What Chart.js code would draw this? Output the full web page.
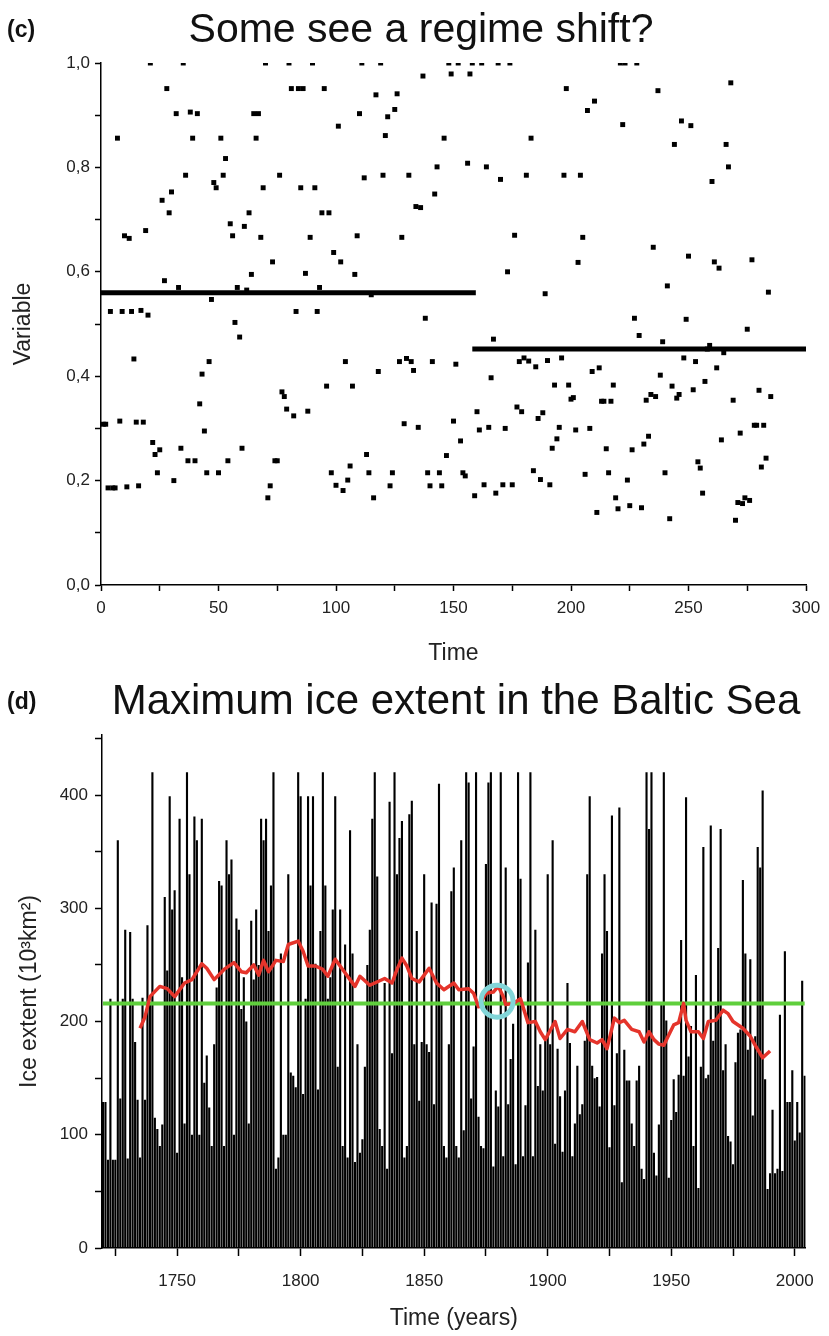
<!DOCTYPE html>
<html><head><meta charset="utf-8">
<script src="https://cdn.jsdelivr.net/npm/chart.js@4/dist/chart.umd.min.js"></script>
<style>
html,body{margin:0;padding:0;background:#fff;}
body{width:829px;height:1336px;position:relative;overflow:hidden;font-family:"Liberation Sans",Arial,sans-serif;}
canvas{position:absolute;left:0;}
#c1{top:0;}
#c2{top:680px;}
.ttl{position:absolute;transform:translate(-50%,-50%);font-size:41px;color:#111;white-space:nowrap;line-height:1;z-index:2;}
.lbl{position:absolute;transform:translateY(-50%);font-size:23px;font-weight:bold;color:#111;line-height:1;z-index:2;}
</style></head>
<body>
<div class="lbl" style="left:7px;top:29px">(c)</div>
<div class="ttl" style="left:421px;top:28px">Some see a regime shift?</div>
<div class="lbl" style="left:7px;top:701px">(d)</div>
<div class="ttl" style="left:456px;top:700px;font-size:42px">Maximum ice extent in the Baltic Sea</div>
<canvas id="c1" width="829" height="680"></canvas>
<canvas id="c2" width="829" height="656"></canvas>
<script>
// ---------- Panel (c): normalised variable, one value per time step ----------
const firstTime = 1;
const variableValues = [
0.308,0.308,0.186,0.524,0.186,0.186,0.856,0.314,0.524,0.669,
0.188,0.664,0.524,0.433,0.312,0.190,0.526,0.312,0.679,0.517,
1.0,0.273,0.250,0.215,0.259,0.737,0.583,0.951,0.713,0.753,
0.200,0.903,0.570,0.262,1.0,0.785,0.238,0.906,0.856,0.238,
0.903,0.347,0.404,0.295,0.215,0.428,0.547,0.771,0.761,0.215,
0.856,0.785,0.817,0.238,0.692,0.669,0.503,0.570,0.475,0.262,
0.687,0.565,0.713,0.595,0.903,0.856,0.903,0.666,0.761,1.0,
0.167,0.190,0.619,0.238,0.238,0.785,0.370,0.361,0.337,1.0,
0.951,0.324,0.524,0.951,0.761,0.951,0.597,0.333,0.666,1.0,
0.761,0.524,0.570,0.713,0.951,0.381,0.713,0.215,0.637,0.191,
0.879,0.619,0.181,0.428,0.201,0.228,0.381,0.595,0.669,0.903,
1.0,0.780,0.250,0.215,0.556,0.167,0.939,0.409,1.0,0.785,
0.861,0.897,0.190,0.215,0.911,0.941,0.428,0.666,0.309,0.434,
0.785,0.428,0.411,0.725,0.302,0.723,0.975,0.511,0.215,0.190,
0.428,0.749,0.801,0.215,0.190,0.856,0.248,1.0,0.979,0.314,
0.423,1.0,0.276,0.215,0.209,0.808,0.979,1.0,0.171,0.332,
0.297,1.0,0.192,0.801,0.302,0.397,0.471,0.176,1.0,0.777,
0.192,0.300,0.600,1.0,0.192,0.670,0.341,0.428,0.332,0.435,
0.785,0.429,0.856,0.219,0.418,0.319,0.202,0.330,0.558,0.430,
0.192,0.262,0.383,0.280,0.302,0.435,0.785,0.951,0.383,0.356,
0.359,0.297,0.618,0.785,0.666,0.212,0.909,0.300,0.409,0.927,
0.139,0.416,0.352,0.352,0.261,0.215,0.352,0.383,0.167,0.146,
1.0,0.882,1.0,0.201,0.152,0.259,0.511,1.0,0.478,0.148,
0.270,0.354,0.285,0.365,0.647,0.361,0.947,0.402,0.466,0.215,
0.573,0.127,0.381,0.844,0.358,0.365,0.889,0.435,0.509,0.630,
0.880,0.374,0.428,0.236,0.224,0.176,0.390,0.452,0.459,0.773,
0.619,0.416,0.607,0.278,0.445,0.844,0.801,0.962,0.354,0.124,
0.158,0.291,0.156,0.167,0.490,0.162,0.623,0.306,0.306,0.373,
0.226,0.306,0.243,0.561,0.361
];
const regimeBeforeTimes = [0, 159.5];
const regimeBeforeMean = 0.56;
const regimeAfterTimes = [158, 300];
const regimeAfterMean = 0.452;
const timeTicksLabelled = [0, 50, 100, 150, 200, 250, 300];

// ---------- Panel (d): maximum ice extent (10^3 km^2), yearly ----------
const firstYear = 1720;
const iceExtent = [
129,129,78,220,78,78,360,132,220,281,
79,279,220,182,131,80,221,131,285,217,
420,115,105,90,109,310,245,399,299,316,
84,379,239,110,420,330,100,381,360,100,
379,146,170,124,90,180,230,324,320,90,
360,330,343,100,291,281,211,239,200,110,
289,237,299,250,379,360,379,280,320,420,
70,80,260,100,100,330,155,152,142,420,
399,136,220,399,320,399,251,140,280,420,
320,220,239,299,399,160,299,90,268,80,
369,260,76,180,84,96,160,250,281,379,
420,328,105,90,234,70,394,172,420,330,
362,377,80,90,383,395,180,280,130,182,
330,180,173,305,127,304,410,215,90,80,
180,315,336,90,80,360,104,420,411,132,
178,420,116,90,88,339,411,420,72,139,
125,420,81,336,127,167,198,74,420,326,
81,126,252,420,81,281,143,180,139,183,
330,180,360,92,176,134,85,139,234,181,
81,110,161,118,127,183,330,399,161,150,
151,125,260,330,280,89,382,126,172,389,
58,175,148,148,110,90,148,161,70,61,
420,370,420,84,64,109,215,420,201,62,
113,149,120,153,272,152,398,169,196,90,
241,53,160,354,150,153,373,183,214,265,
370,157,180,99,94,74,164,190,193,325,
260,175,255,117,187,354,336,404,149,52,
66,122,66,70,206,68,262,129,129,157,
95,129,102,236,152
];
const runningMeanYears = [1735,1737,1739,1743,1746,1749,1753,1756,1760,1762,
1765,1769,1773,1776,1778,1781,1783,1785,1787,1790,
1793,1795,1799,1801,1803,1806,1809,1811,1814,1817,
1820,1822,1824,1828,1832,1834,1837,1839,1841,1843,
1845,1848,1852,1855,1858,1862,1864,1868,1870,1872,
1875,1878,1880,1882,1883,1886,1889,1892,1895,1897,
1899,1903,1905,1908,1911,1914,1917,1920,1922,1924,
1927,1929,1931,1934,1937,1939,1941,1943,1945,1947,
1949,1951,1953,1955,1956,1958,1961,1963,1965,1968,
1971,1973,1975,1979,1982,1984,1987,1990];
const runningMeanValues = [194,204,222,231,229,222,234,237,251,247,
237,246,252,244,243,250,241,254,244,254,
253,268,271,262,249,249,246,240,255,246,
237,231,240,232,236,238,234,246,256,249,
238,235,247,234,228,234,228,229,225,213,
225,226,231,222,215,216,220,199,200,191,
184,200,185,193,191,200,184,181,184,176,
203,199,201,193,191,182,191,184,180,179,
188,197,199,216,201,191,191,185,200,201,
210,207,200,194,187,179,168,174];
const overallMeanYears = [1720, 2004];
const overallMeanIce = 216;
const shiftMarkerYear = [1879.5];
const shiftMarkerIce = [218];
const yearTicksLabelled = [1750, 1800, 1850, 1900, 1950, 2000];
const iceTicksLabelled = [0, 100, 200, 300, 400];

// ---------- common ----------
const FONT = '"Liberation Sans", Arial, sans-serif';
Chart.defaults.font.family = FONT;
Chart.defaults.color = '#222';

function axisCommon(extra) {
  return Object.assign({
    type: 'linear',
    offset: false,
    border: { display: true, color: '#000', width: 1.5 },
    grid: { display: true, drawOnChartArea: false, drawTicks: true, tickLength: 6,
            tickWidth: 1.5, tickColor: '#000', offset: false },
  }, extra);
}

// ---------- chart (c) ----------
const ptsC = variableValues.map((v, i) => ({ x: firstTime + i, y: v }));
new Chart(document.getElementById('c1'), {
  type: 'scatter',
  data: { datasets: [
    { label: 'Variable', data: ptsC, pointStyle: 'rect', pointRadius: 3.5,
      backgroundColor: '#000', borderWidth: 0, clip: 0, order: 2 },
    { type: 'line', label: 'Mean 1', data: regimeBeforeTimes.map(t => ({ x: t, y: regimeBeforeMean })),
      borderColor: '#000', borderWidth: 5, pointRadius: 0, clip: 0, order: 1 },
    { type: 'line', label: 'Mean 2', data: regimeAfterTimes.map(t => ({ x: t, y: regimeAfterMean })),
      borderColor: '#000', borderWidth: 5, pointRadius: 0, clip: 0, order: 1 }
  ]},
  options: {
    responsive: false, animation: false, events: [],
    layout: { padding: { left: 6, right: 23, top: 63, bottom: 9 } },
    plugins: { legend: { display: false }, tooltip: { enabled: false } },
    scales: {
      x: axisCommon({
        min: 0, max: 300,
        ticks: { stepSize: 25, includeBounds: false, autoSkip: false, maxRotation: 0, padding: 7,
                 font: { size: 17 }, color: '#222',
                 callback: v => timeTicksLabelled.includes(v) ? String(v) : '' },
        title: { display: true, text: 'Time', font: { size: 23 }, color: '#222', padding: { top: 4, bottom: 4 } },
        afterFit: s => { s.height = 86; }
      }),
      y: axisCommon({
        min: 0, max: 1,
        ticks: { stepSize: 0.1, includeBounds: false, autoSkip: false, padding: 5,
                 font: { size: 17 }, color: '#222',
                 callback: v => (Math.round(v * 10) % 2 === 0) ? v.toFixed(1).replace('.', ',') : '' },
        title: { display: true, text: 'Variable', font: { size: 23 }, color: '#222', padding: { top: 4, bottom: 4 } },
        afterFit: s => { s.width = 95; }
      })
    }
  }
});

// ---------- chart (d) ----------
const iceBars = iceExtent.map((v, i) => ({ x: firstYear + i, y: v }));
const redLine = runningMeanYears.map((yr, i) => ({ x: yr, y: runningMeanValues[i] }));
const greenLine = overallMeanYears.map(yr => ({ x: yr, y: overallMeanIce }));
const marker = shiftMarkerYear.map((yr, i) => ({ x: yr, y: shiftMarkerIce[i] }));
new Chart(document.getElementById('c2'), {
  type: 'scatter',
  data: { datasets: [
    { type: 'bar', label: 'Ice extent', data: iceBars, backgroundColor: '#000', borderWidth: 0,
      barPercentage: 0.86, categoryPercentage: 1, order: 4 },
    { type: 'line', label: 'Mean', data: greenLine, borderColor: '#5fcf3c', borderWidth: 4,
      pointRadius: 0, order: 3 },
    { type: 'line', label: 'Running mean', data: redLine, borderColor: '#e5342b', borderWidth: 3.5,
      pointRadius: 0, tension: 0, borderJoinStyle: 'round', order: 2 },
    { type: 'scatter', label: 'Shift', data: marker, pointStyle: 'circle', pointRadius: 16,
      borderWidth: 5, borderColor: '#82d5d8', backgroundColor: 'rgba(0,0,0,0)', order: 1 }
  ]},
  options: {
    responsive: false, animation: false, events: [],
    layout: { padding: { left: 12, right: 19, top: 55, bottom: 0 } },
    plugins: { legend: { display: false }, tooltip: { enabled: false } },
    scales: {
      x: axisCommon({
        min: 1719.6, max: 2004.4,
        grid: { display: true, drawOnChartArea: false, drawTicks: true, tickLength: 8,
                tickWidth: 1.5, tickColor: '#000', offset: false },
        ticks: { stepSize: 25, includeBounds: false, autoSkip: false, maxRotation: 0, padding: 15,
                 font: { size: 17 }, color: '#222',
                 callback: v => yearTicksLabelled.includes(v) ? String(v) : '' },
        title: { display: true, text: 'Time (years)', font: { size: 23 }, color: '#222', padding: { top: 4, bottom: 4 } },
        afterFit: s => { s.height = 88; }
      }),
      y: axisCommon({
        min: 0, max: 453,
        grid: { display: true, drawOnChartArea: false, drawTicks: true, tickLength: 7,
                tickWidth: 1.5, tickColor: '#000', offset: false },
        ticks: { stepSize: 50, includeBounds: false, autoSkip: false, padding: 7,
                 font: { size: 17 }, color: '#222',
                 callback: v => iceTicksLabelled.includes(v) ? String(v) : '' },
        title: { display: true, text: 'Ice extent (10³km²)', font: { size: 23 }, color: '#222', padding: { top: 4, bottom: 4 } },
        afterFit: s => { s.width = 90; }
      })
    }
  }
});
</script>
</body></html>
